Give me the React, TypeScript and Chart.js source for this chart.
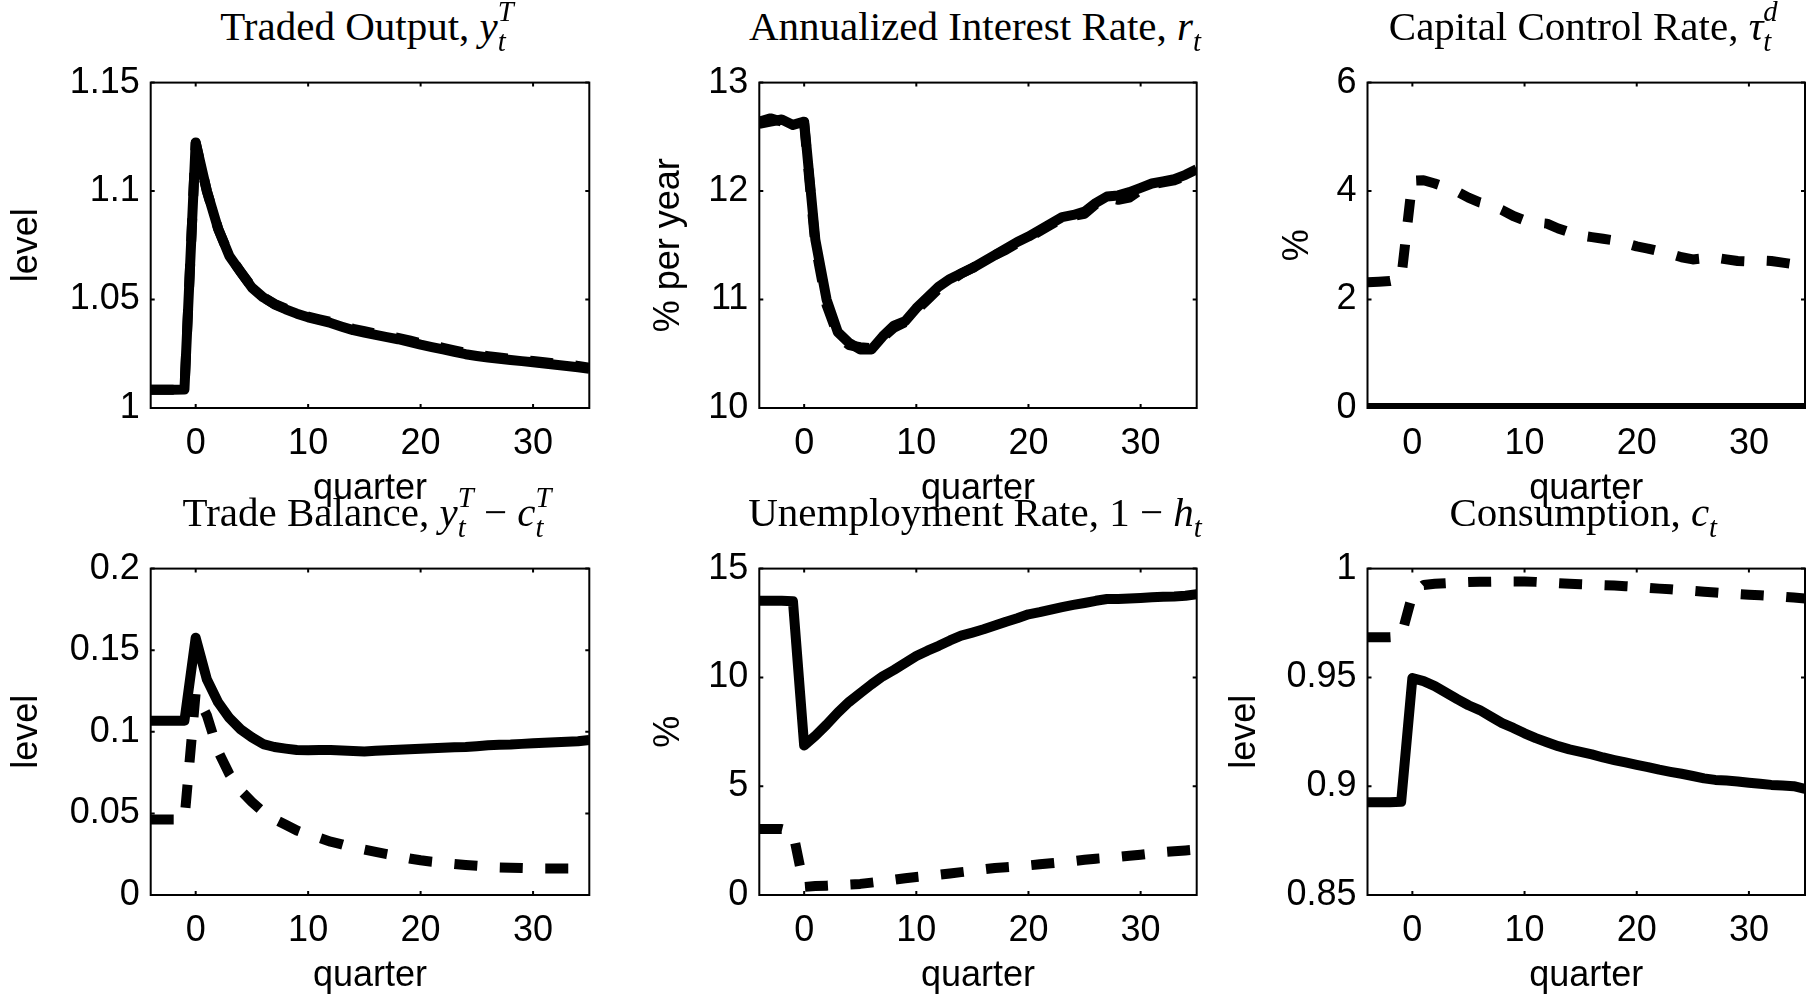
import React, { useEffect, useRef } from 'react';
import { Chart, registerables } from 'chart.js';

Chart.register(...registerables);

// ---------------- data ----------------
const quarters = [-4, -3, -2, -1, 0, 1, 2, 3, 4, 5, 6, 7, 8, 9, 10, 11, 12, 13, 14, 15, 16, 17, 18, 19, 20, 21, 22, 23, 24, 25, 26, 27, 28, 29, 30, 31, 32, 33, 34, 35];
const xTickValues = [0, 10, 20, 30];
const xTickLabels = ['0', '10', '20', '30'];

const tradedOutputSolid = [1.0084, 1.0084, 1.0084, 1.0085, 1.1224, 1.1000, 1.0826, 1.0700, 1.0626, 1.0555, 1.0510, 1.0478, 1.0455, 1.0435, 1.0418, 1.0405, 1.0392, 1.0375, 1.0359, 1.0348, 1.0337, 1.0327, 1.0317, 1.0305, 1.0292, 1.0281, 1.0270, 1.0259, 1.0248, 1.0240, 1.0233, 1.0227, 1.0221, 1.0216, 1.0211, 1.0205, 1.0199, 1.0194, 1.0188, 1.0181];
const tradedOutputDashed = [1.0084, 1.0084, 1.0084, 1.0085, 1.1222, 1.0998, 1.0826, 1.0702, 1.0628, 1.0557, 1.0512, 1.0480, 1.0458, 1.0438, 1.0421, 1.0409, 1.0397, 1.0381, 1.0365, 1.0354, 1.0343, 1.0333, 1.0323, 1.0312, 1.0299, 1.0288, 1.0277, 1.0266, 1.0255, 1.0246, 1.0239, 1.0233, 1.0227, 1.0222, 1.0217, 1.0211, 1.0205, 1.0200, 1.0194, 1.0186];
const outputTicks = [1, 1.05, 1.1, 1.15];
const outputTickLabels = ['1', '1.05', '1.1', '1.15'];

const interestSolid = [12.62, 12.64, 12.66, 12.61, 12.64, 11.55, 11.00, 10.70, 10.60, 10.54, 10.54, 10.66, 10.76, 10.80, 10.92, 11.02, 11.12, 11.19, 11.24, 11.29, 11.35, 11.41, 11.47, 11.53, 11.58, 11.64, 11.70, 11.76, 11.78, 11.81, 11.89, 11.95, 11.96, 11.99, 12.03, 12.07, 12.09, 12.11, 12.15, 12.20];
const interestDashed = [12.64, 12.67, 12.64, 12.62, 12.62, 11.50, 10.95, 10.67, 10.58, 10.56, 10.55, 10.65, 10.74, 10.79, 10.90, 11.00, 11.10, 11.17, 11.24, 11.29, 11.35, 11.41, 11.46, 11.52, 11.57, 11.63, 11.69, 11.75, 11.77, 11.79, 11.88, 11.94, 11.92, 11.94, 12.01, 12.06, 12.08, 12.10, 12.14, 12.19];
const interestTicks = [10, 11, 12, 13];
const interestTickLabels = ['10', '11', '12', '13'];

const capControlSolid = [0, 0, 0, 0, 0, 0, 0, 0, 0, 0, 0, 0, 0, 0, 0, 0, 0, 0, 0, 0, 0, 0, 0, 0, 0, 0, 0, 0, 0, 0, 0, 0, 0, 0, 0, 0, 0, 0, 0, 0];
const capControlDashed = [2.32, 2.33, 2.34, 2.38, 4.19, 4.20, 4.14, 4.07, 3.99, 3.88, 3.79, 3.74, 3.65, 3.54, 3.46, 3.42, 3.40, 3.31, 3.24, 3.18, 3.15, 3.12, 3.09, 3.04, 2.98, 2.94, 2.89, 2.84, 2.78, 2.74, 2.76, 2.77, 2.74, 2.71, 2.70, 2.72, 2.71, 2.68, 2.65, 2.62];
const capControlTicks = [0, 2, 4, 6];
const capControlTickLabels = ['0', '2', '4', '6'];

const tradeBalanceSolid = [0.1068, 0.1068, 0.1068, 0.1068, 0.1576, 0.1320, 0.1180, 0.1084, 0.1015, 0.0966, 0.0925, 0.0907, 0.0897, 0.0888, 0.0887, 0.0888, 0.0889, 0.0886, 0.0883, 0.0880, 0.0884, 0.0887, 0.0890, 0.0893, 0.0896, 0.0899, 0.0902, 0.0905, 0.0907, 0.0912, 0.0917, 0.0920, 0.0922, 0.0926, 0.0930, 0.0933, 0.0936, 0.0939, 0.0942, 0.0950];
const tradeBalanceDashed = [0.0463, 0.0463, 0.0463, 0.0463, 0.1240, 0.1100, 0.0880, 0.0740, 0.0640, 0.0570, 0.0510, 0.0465, 0.0430, 0.0395, 0.0370, 0.0350, 0.0327, 0.0310, 0.0290, 0.0278, 0.0264, 0.0250, 0.0237, 0.0224, 0.0213, 0.0204, 0.0197, 0.0190, 0.0184, 0.0179, 0.0174, 0.0169, 0.0167, 0.0165, 0.0163, 0.0162, 0.0162, 0.0162, 0.0162, 0.0162];
const tradeBalanceTicks = [0, 0.05, 0.1, 0.15, 0.2];
const tradeBalanceTickLabels = ['0', '0.05', '0.1', '0.15', '0.2'];

const unemploymentSolid = [13.52, 13.52, 13.52, 13.50, 6.87, 7.32, 7.83, 8.38, 8.87, 9.28, 9.68, 10.05, 10.34, 10.66, 10.98, 11.23, 11.45, 11.70, 11.92, 12.06, 12.21, 12.38, 12.56, 12.72, 12.90, 13.00, 13.12, 13.23, 13.33, 13.42, 13.52, 13.60, 13.60, 13.63, 13.65, 13.68, 13.71, 13.72, 13.75, 13.82];
const unemploymentDashed = [3.03, 3.03, 3.03, 2.90, 0.37, 0.41, 0.43, 0.46, 0.48, 0.51, 0.57, 0.63, 0.70, 0.77, 0.83, 0.88, 0.93, 0.99, 1.05, 1.11, 1.18, 1.24, 1.28, 1.32, 1.36, 1.41, 1.46, 1.51, 1.56, 1.62, 1.67, 1.71, 1.75, 1.80, 1.85, 1.91, 1.97, 2.01, 2.05, 2.09];
const unemploymentTicks = [0, 5, 10, 15];
const unemploymentTickLabels = ['0', '5', '10', '15'];

const consumptionSolid = [0.8926, 0.8926, 0.8926, 0.8928, 0.9497, 0.9483, 0.9460, 0.9430, 0.9400, 0.9372, 0.9350, 0.9320, 0.9290, 0.9268, 0.9243, 0.9221, 0.9202, 0.9184, 0.9169, 0.9158, 0.9146, 0.9132, 0.9120, 0.9109, 0.9098, 0.9088, 0.9076, 0.9066, 0.9057, 0.9047, 0.9036, 0.9029, 0.9026, 0.9022, 0.9016, 0.9011, 0.9006, 0.9003, 0.9000, 0.8988];
const consumptionDashed = [0.9685, 0.9685, 0.9685, 0.9688, 0.9880, 0.9925, 0.9930, 0.9933, 0.9936, 0.9938, 0.9939, 0.9940, 0.9941, 0.9941, 0.9941, 0.9939, 0.9936, 0.9933, 0.9930, 0.9928, 0.9926, 0.9924, 0.9922, 0.9919, 0.9916, 0.9912, 0.9908, 0.9905, 0.9901, 0.9898, 0.9894, 0.9890, 0.9886, 0.9883, 0.9880, 0.9877, 0.9874, 0.9871, 0.9867, 0.9863];
const consumptionTicks = [0.85, 0.9, 0.95, 1];
const consumptionTickLabels = ['0.85', '0.9', '0.95', '1'];

// ---------------- style ----------------
const SANS = '"Liberation Sans", Arial, Helvetica, sans-serif';
const SERIF = '"Liberation Serif", "Times New Roman", serif';
const TICK_SIZE = 36;
const YTITLE_SIZE = 36;
const XTITLE_SIZE = 36;
const TITLE_SIZE = 41;
const LINE_W = 10;
const DASH = [23, 22.5];

const rowPlotTop = [70.5, 556.7];
const rowPlotBottom = [408, 895];
const colPlotLeft = [150.7, 759.3, 1367.5];
const colPlotRight = [589.3, 1196.7, 1805];
const rowXTitleMid = [489, 976];

type PanelSpec = {
  row: number;
  col: number;
  yTitleCenter: number;
  yTitle: string;
  yMin: number;
  yMax: number;
  yTicks: number[];
  yTickLabels: string[];
  solid: number[];
  dashed: number[];
  title: React.ReactNode;
};

function SupSub({ sup, sub }: { sup?: string; sub?: string }) {
  const child: React.CSSProperties = {
    position: 'absolute',
    left: 0,
    fontSize: '0.7em',
    lineHeight: 1,
    fontStyle: 'italic',
    whiteSpace: 'nowrap',
  };
  const widest = sup && sub ? (sup.length >= sub.length ? sup : sub) : sup || sub;
  return (
    <span style={{ position: 'relative' }}>
      <span style={{ visibility: 'hidden', fontSize: '0.7em', fontStyle: 'italic' }}>{widest}</span>
      {sup ? <span style={{ ...child, top: -0.145 * TITLE_SIZE }}>{sup}</span> : null}
      {sub ? <span style={{ ...child, top: 0.575 * TITLE_SIZE }}>{sub}</span> : null}
    </span>
  );
}

const panels: PanelSpec[] = [
  {
    row: 0, col: 0, yTitleCenter: 27, yTitle: 'level', yMin: 1, yMax: 1.15,
    yTicks: outputTicks, yTickLabels: outputTickLabels,
    solid: tradedOutputSolid, dashed: tradedOutputDashed,
    title: <>Traded Output, <i>y</i><SupSub sup="T" sub="t" /></>,
  },
  {
    row: 0, col: 1, yTitleCenter: 669, yTitle: '% per year', yMin: 10, yMax: 13,
    yTicks: interestTicks, yTickLabels: interestTickLabels,
    solid: interestSolid, dashed: interestDashed,
    title: <>Annualized Interest Rate, <i>r</i><SupSub sub="t" /></>,
  },
  {
    row: 0, col: 2, yTitleCenter: 1298, yTitle: '%', yMin: 0, yMax: 6,
    yTicks: capControlTicks, yTickLabels: capControlTickLabels,
    solid: capControlSolid, dashed: capControlDashed,
    title: <>Capital Control Rate, <i>τ</i><SupSub sup="d" sub="t" /></>,
  },
  {
    row: 1, col: 0, yTitleCenter: 27, yTitle: 'level', yMin: 0, yMax: 0.2,
    yTicks: tradeBalanceTicks, yTickLabels: tradeBalanceTickLabels,
    solid: tradeBalanceSolid, dashed: tradeBalanceDashed,
    title: <>Trade Balance, <i>y</i><SupSub sup="T" sub="t" /> − <i>c</i><SupSub sup="T" sub="t" /></>,
  },
  {
    row: 1, col: 1, yTitleCenter: 669, yTitle: '%', yMin: 0, yMax: 15,
    yTicks: unemploymentTicks, yTickLabels: unemploymentTickLabels,
    solid: unemploymentSolid, dashed: unemploymentDashed,
    title: <>Unemployment Rate, 1 − <i>h</i><SupSub sub="t" /></>,
  },
  {
    row: 1, col: 2, yTitleCenter: 1245, yTitle: 'level', yMin: 0.85, yMax: 1,
    yTicks: consumptionTicks, yTickLabels: consumptionTickLabels,
    solid: consumptionSolid, dashed: consumptionDashed,
    title: <>Consumption, <i>c</i><SupSub sub="t" /></>,
  },
];

const boxPlugin = {
  id: 'matlabBox',
  beforeDatasetsDraw(chart: any) {
    const { ctx, chartArea: a, scales } = chart;
    const tl = 4;
    ctx.save();
    ctx.strokeStyle = '#000';
    ctx.lineWidth = 2;
    ctx.strokeRect(a.left, a.top, a.right - a.left, a.bottom - a.top);
    ctx.beginPath();
    scales.x.ticks.forEach((t: any) => {
      const px = scales.x.getPixelForValue(t.value);
      ctx.moveTo(px, a.bottom);
      ctx.lineTo(px, a.bottom - tl);
      ctx.moveTo(px, a.top);
      ctx.lineTo(px, a.top + tl);
    });
    scales.y.ticks.forEach((t: any) => {
      const py = scales.y.getPixelForValue(t.value);
      ctx.moveTo(a.left, py);
      ctx.lineTo(a.left + tl, py);
      ctx.moveTo(a.right, py);
      ctx.lineTo(a.right - tl, py);
    });
    ctx.stroke();
    ctx.restore();
  },
};

function Panel({ spec }: { spec: PanelSpec }) {
  const ref = useRef<HTMLCanvasElement>(null);
  const plotL = colPlotLeft[spec.col];
  const plotR = colPlotRight[spec.col];
  const plotT = rowPlotTop[spec.row];
  const plotB = rowPlotBottom[spec.row];
  const cl = Math.round(spec.yTitleCenter - 20);
  const titlePad = spec.yTitleCenter - cl - YTITLE_SIZE / 2;
  const yAxisW = plotL - cl;
  const ct = Math.floor(plotT - 20);
  const padTop = plotT - ct;
  const width = Math.ceil(Math.min(plotR + 10, 1815) - cl);
  const padRight = width - (plotR - cl);
  const height = Math.ceil(Math.min(plotB + 100, 995) - ct);
  const xAxisH = height - padTop - (plotB - plotT);
  const xTitlePad = ct + height - XTITLE_SIZE / 2 - rowXTitleMid[spec.row];

  useEffect(() => {
    const canvas = ref.current;
    if (!canvas) return;
    const toPoints = (vals: number[]) => quarters.map((q, i) => ({ x: q, y: vals[i] }));
    const chart = new Chart(canvas, {
      type: 'line',
      data: {
        datasets: [
          {
            label: 'without capital controls',
            data: toPoints(spec.solid),
            borderColor: '#000',
            backgroundColor: '#000',
            borderWidth: LINE_W,
            pointRadius: 0,
            tension: 0,
            borderJoinStyle: 'round',
            borderCapStyle: 'butt',
            order: 1,
          },
          {
            label: 'optimal capital controls',
            data: toPoints(spec.dashed),
            borderColor: '#000',
            backgroundColor: '#000',
            borderWidth: LINE_W,
            borderDash: DASH,
            pointRadius: 0,
            tension: 0,
            borderJoinStyle: 'round',
            borderCapStyle: 'butt',
            order: 0,
          },
        ],
      },
      options: {
        animation: false,
        responsive: false,
        events: [],
        layout: { padding: { top: padTop, right: padRight, left: 0, bottom: 0 } },
        plugins: { legend: { display: false }, tooltip: { enabled: false }, title: { display: false } },
        scales: {
          x: {
            type: 'linear',
            min: -4,
            max: 35,
            afterBuildTicks: (s: any) => {
              s.ticks = xTickValues.map((v) => ({ value: v }));
            },
            afterFit: (s: any) => {
              s.height = xAxisH;
            },
            grid: { display: false, drawTicks: false },
            border: { display: false },
            ticks: {
              color: '#000',
              font: { family: SANS, size: TICK_SIZE },
              padding: 14,
              maxRotation: 0,
              autoSkip: false,
              callback: (_v: any, i: number) => xTickLabels[i],
            },
            title: {
              display: true,
              text: 'quarter',
              color: '#000',
              font: { family: SANS, size: XTITLE_SIZE, lineHeight: 1 },
              padding: { top: 0, bottom: xTitlePad },
            },
          },
          y: {
            type: 'linear',
            min: spec.yMin,
            max: spec.yMax,
            afterBuildTicks: (s: any) => {
              s.ticks = spec.yTicks.map((v) => ({ value: v }));
            },
            afterFit: (s: any) => {
              s.width = yAxisW;
            },
            grid: { display: false, drawTicks: false },
            border: { display: false },
            ticks: {
              color: '#000',
              font: { family: SANS, size: TICK_SIZE },
              padding: 11,
              autoSkip: false,
              callback: (_v: any, i: number) => spec.yTickLabels[i],
            },
            title: {
              display: true,
              text: spec.yTitle,
              color: '#000',
              font: { family: SANS, size: YTITLE_SIZE, lineHeight: 1 },
              padding: { top: titlePad, bottom: 0 },
            },
          },
        },
      },
      plugins: [boxPlugin],
    } as any);
    return () => chart.destroy();
  }, []);

  const plotW = plotR - plotL;
  const baseline = plotT - 30;
  return (
    <>
      <canvas
        ref={ref}
        width={width}
        height={height}
        style={{ position: 'absolute', left: cl, top: ct, width, height }}
      />
      <div
        style={{
          position: 'absolute',
          left: plotL - 150 - 3,
          width: plotW + 300,
          top: baseline - 0.8375 * TITLE_SIZE,
          textAlign: 'center',
          fontFamily: SERIF,
          fontSize: TITLE_SIZE,
          lineHeight: 1,
          whiteSpace: 'nowrap',
          color: '#000',
        }}
      >
        {spec.title}
      </div>
    </>
  );
}

export default function App() {
  return (
    <div
      style={{
        position: 'fixed',
        left: 0,
        top: 0,
        width: 1815,
        height: 995,
        background: '#fff',
        overflow: 'hidden',
      }}
    >
      {panels.map((p, i) => (
        <Panel key={i} spec={p} />
      ))}
    </div>
  );
}
